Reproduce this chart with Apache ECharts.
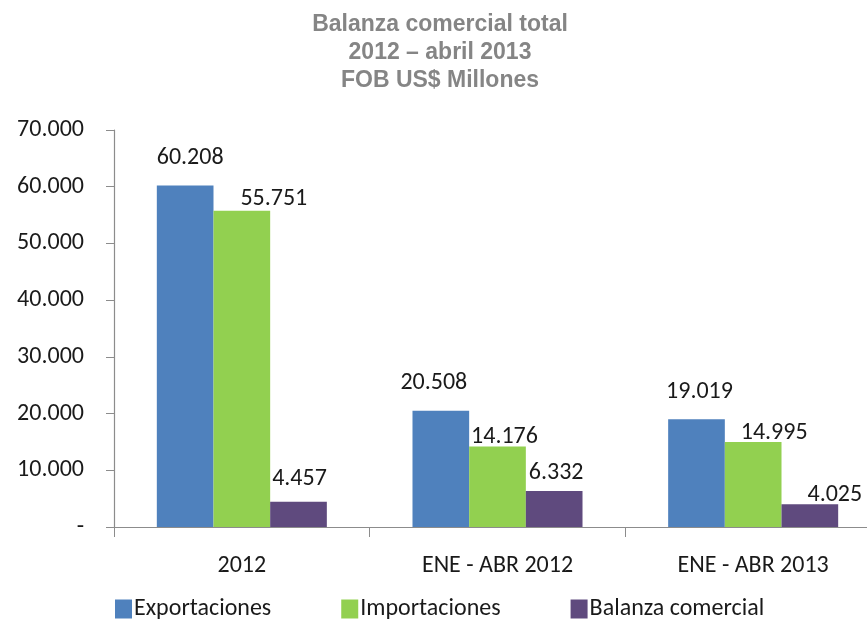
<!DOCTYPE html>
<html><head><meta charset="utf-8">
<script src="https://cdn.jsdelivr.net/npm/echarts@6/dist/echarts.min.js"></script>
<style>html,body{margin:0;padding:0;background:#fff}#c{width:867px;height:632px}</style>
</head><body><div id="c"></div>
<script>
const categories = ['2012', 'ENE - ABR 2012', 'ENE - ABR 2013'];
const exportaciones = [60208, 20508, 19019];
const importaciones = [55751, 14176, 14995];
const balanza = [4457, 6332, 4025];
const seriesNames = ['Exportaciones', 'Importaciones', 'Balanza comercial'];
const titleLines = ['Balanza comercial total', '2012 – abril 2013', 'FOB US$ Millones'];

const FONT = 'Carlito, Lato, sans-serif';
function fmt(v) {
  if (v === 0) return '-';
  return String(Math.round(v)).replace(/\B(?=(\d{3})+(?!\d))/g, '.');
}
// label offsets (layout only), per series then per category
const labelOffsets = [
  [[5, -16], [-7, -16], [3, -15]],
  [[32, 0], [7, 2], [21, 3]],
  [[1, -11], [2, -6], [25, 3]]
];
function mkSeries(name, data, color, si) {
  return {
    name: name, type: 'bar', barGap: '0%', barCategoryGap: '33.5%',
    itemStyle: { color: color },
    data: data.map((v, i) => ({
      value: v,
      label: { offset: labelOffsets[si][i] }
    })),
    label: {
      show: true, position: 'top', distance: 0,
      fontFamily: FONT, fontSize: 24, color: '#1a1a1a',
      formatter: p => fmt(p.value)
    }
  };
}
const chart = echarts.init(document.getElementById('c'));
chart.setOption({
  animation: false,
  title: {
    text: titleLines.join('\n'), left: 435, top: 6, textAlign: 'center',
    textStyle: { fontFamily: 'Liberation Sans, Arial, sans-serif', fontWeight: 'bold', fontSize: 23, color: '#858585', lineHeight: 28 }
  },
  legend: {
    left: 110, top: 592, itemWidth: 17, itemHeight: 19, itemGap: 70,
    icon: 'rect',
    textStyle: { fontFamily: FONT, fontSize: 24, color: '#1a1a1a', padding: [0, 0, 0, -3] },
    data: seriesNames
  },
  grid: { left: 114, right: -14, top: 130, bottom: 105, containLabel: false, outerBoundsMode: 'none' },
  xAxis: {
    type: 'category', data: categories,
    axisLine: { lineStyle: { color: '#8c8c8c', width: 1.2 } },
    axisTick: { show: true, length: 10, lineStyle: { color: '#8c8c8c' } },
    axisLabel: { fontFamily: FONT, fontSize: 24, color: '#1a1a1a', margin: 27 }
  },
  yAxis: {
    type: 'value', min: 0, max: 70000, interval: 10000,
    axisLine: { show: true, lineStyle: { color: '#8c8c8c', width: 1.2 } },
    axisTick: { show: true, length: 8, lineStyle: { color: '#8c8c8c' } },
    splitLine: { show: false },
    axisLabel: { fontFamily: FONT, fontSize: 24, color: '#1a1a1a', margin: 30, formatter: fmt }
  },
  series: [
    mkSeries(seriesNames[0], exportaciones, '#4f81bd', 0),
    mkSeries(seriesNames[1], importaciones, '#92d050', 1),
    mkSeries(seriesNames[2], balanza, '#5f4a7e', 2)
  ]
});
</script></body></html>
